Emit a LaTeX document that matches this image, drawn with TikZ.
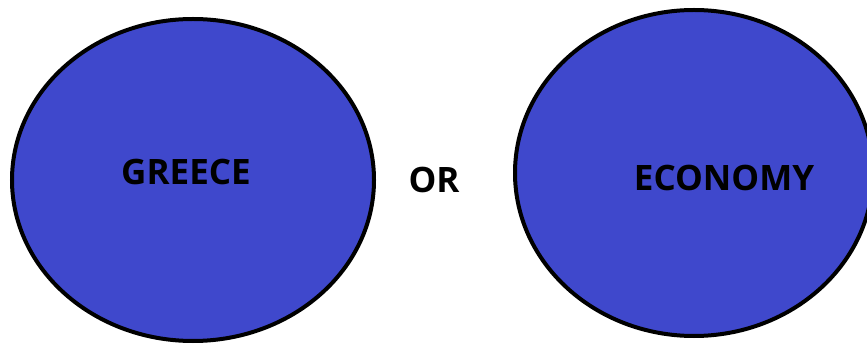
\documentclass[tikz,border=0pt]{standalone}
\usepackage{fontspec}
\setmainfont{Open Sans}
\usetikzlibrary{shapes.geometric}
\definecolor{cindigo}{HTML}{3F48CC}
\tikzset{
  every picture/.style={font=\bfseries, x=1pt, y=-1pt},
  blob/.style={ellipse, draw=black, fill=cindigo, line width=4pt, inner sep=0pt},
  word/.style={font=\fontsize{35}{35}\selectfont\bfseries, inner sep=0pt},
}
\begin{document}
\begin{tikzpicture}
  \useasboundingbox (0,0) rectangle (867,347);
  \clip (0,0) rectangle (867,347);
  \node[blob, minimum width=362pt, minimum height=322pt] (greece) at (193,180) {};
  \node[blob, minimum width=358pt, minimum height=326pt] (economy) at (694,173) {};
  \node[word] (greeceText) at (186,172.5) {GREECE};
  \node[word] (orText) at (434,179.5) {OR};
  \node[word] (economyText) at (724,177.5) {ECONOMY};
\end{tikzpicture}
\end{document}
